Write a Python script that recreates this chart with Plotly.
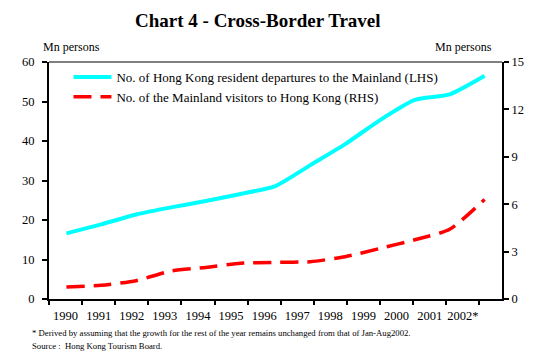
import plotly.graph_objects as go

years = ["1990", "1991", "1992", "1993", "1994", "1995", "1996",
         "1997", "1998", "1999", "2000", "2001", "2002*"]
hk_departures = [16.6, 18.9, 21.4, 23.2, 24.8, 26.6, 28.6,
                 33.9, 39.2, 45.3, 50.4, 51.8, 56.5]
mainland_visitors = [0.76, 0.87, 1.16, 1.77, 2.0, 2.26, 2.32,
                     2.36, 2.68, 3.2, 3.75, 4.41, 6.3]

serif = "Liberation Serif, Times New Roman, serif"
xpos = list(range(len(years)))

fig = go.Figure()
fig.add_trace(go.Scatter(
    x=xpos, y=hk_departures, xaxis="x", yaxis="y",
    mode="lines", line=dict(color="#00FFFF", width=4, shape="spline", smoothing=0.6),
    name="No. of Hong Kong resident departures to the Mainland (LHS)"))
fig.add_trace(go.Scatter(
    x=xpos, y=mainland_visitors, xaxis="x", yaxis="y2",
    mode="lines", line=dict(color="#FF0000", width=3.5, dash="18px,9px", shape="spline", smoothing=0.6),
    name="No. of the Mainland visitors to Hong Kong (RHS)"))
# label axis (categories)
fig.add_trace(go.Scatter(
    x=years, y=[None] * len(years), xaxis="x2", yaxis="y",
    mode="markers", showlegend=False, hoverinfo="skip"))

fig.update_layout(
    template=None,
    width=548, height=361,
    margin=dict(l=49, r=46, t=62, b=62, autoexpand=False),
    paper_bgcolor="white", plot_bgcolor="rgba(0,0,0,0)",
    font=dict(family=serif, size=12, color="black"),
    showlegend=True,
    legend=dict(x=0.043, y=1.0, xanchor="left", yanchor="top",
                bgcolor="rgba(0,0,0,0)", font=dict(family=serif, size=13),
                itemwidth=38, tracegroupgap=0),
    xaxis=dict(range=[-0.5, 12.5], showticklabels=False, ticks="",
               showgrid=False, zeroline=False, automargin=False,
               showline=True, linecolor="black", linewidth=2),
    xaxis2=dict(type="category", domain=[0, 0.9499], anchor="y",
                range=[-0.5, 12.5], tickson="boundaries", tickangle=0,
                ticks="outside", ticklen=5, tickwidth=1.5, tickcolor="black",
                showgrid=False, zeroline=False, showline=False, automargin=False,
                ticklabelstandoff=7,
                tickfont=dict(family=serif, size=12.5)),
    yaxis=dict(range=[0, 60], dtick=10, ticks="outside", ticklen=5,
               tickwidth=1.5, tickcolor="black", showgrid=False, zeroline=False,
               showline=True, linecolor="black", linewidth=2, automargin=False,
               ticklabelstandoff=5,
               tickfont=dict(family=serif, size=12.5)),
    yaxis2=dict(range=[0, 15], dtick=3, overlaying="y", side="right",
                ticks="outside", ticklen=5, tickwidth=1.5, tickcolor="black",
                showgrid=False, zeroline=False, automargin=False,
                showline=True, linecolor="black", linewidth=2,
                tickfont=dict(family=serif, size=12.5)),
)

fig.add_shape(type="line", xref="paper", yref="paper", x0=0, x1=1, y0=1, y1=1,
              line=dict(color="#808080", width=2))


def px_to_paper(xp, yp):
    return (xp - 49) / (548 - 49 - 46), (299 - yp) / (299 - 62)


ax, ay = px_to_paper(258, 21)
fig.add_annotation(text="<b>Chart 4 - Cross-Border Travel</b>", xref="paper", yref="paper",
                   x=ax, y=ay, xanchor="center", yanchor="middle",
                   showarrow=False, font=dict(family=serif, size=19))

for txt, xp, yp, anchor in [
    ("Mn persons", 41, 47, "left"),
    ("Mn persons", 494, 47, "right"),
]:
    x, y = px_to_paper(xp, yp)
    fig.add_annotation(text=txt, xref="paper", yref="paper", x=x, y=y,
                       xanchor=anchor, yanchor="middle", showarrow=False,
                       font=dict(family=serif, size=12))

for txt, yp in [
    ("* Derived by assuming that the growth for the rest of the year remains unchanged from that of Jan-Aug2002.", 333),
    ("Source :  Hong Kong Tourism Board.", 346),
]:
    x, y = px_to_paper(30, yp)
    fig.add_annotation(text=txt, xref="paper", yref="paper", x=x, y=y,
                       xanchor="left", yanchor="middle", showarrow=False,
                       font=dict(family=serif, size=8.7))

fig.write_html("out.html", config={"displayModeBar": False},
               post_script="document.body.style.margin='0';document.body.style.overflow='hidden';")
